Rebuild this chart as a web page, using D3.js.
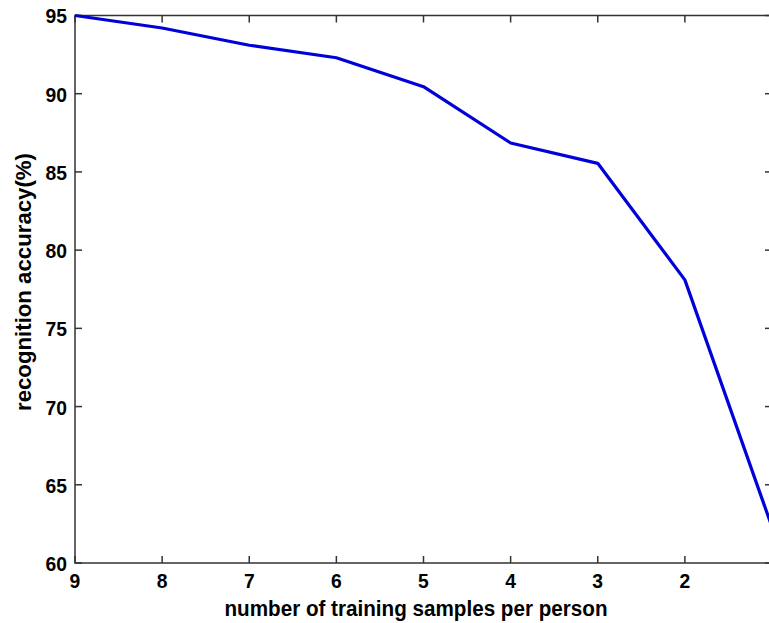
<!DOCTYPE html>
<html>
<head>
<meta charset="utf-8">
<script src="https://cdn.jsdelivr.net/npm/d3@7"></script>
<style>
  body { margin: 0; background: #fff; }
  text { font-family: "Liberation Sans", Arial, sans-serif; font-weight: bold; fill: #000; }
</style>
</head>
<body>
<svg id="chart" width="769" height="623"></svg>
<script>
var samples = [9, 8, 7, 6, 5, 4, 3, 2, 1];
var accuracy = [95.0, 94.2, 93.1, 92.3, 90.45, 86.85, 85.55, 78.1, 62.3];
var xTicks = [9, 8, 7, 6, 5, 4, 3, 2, 1];
var yTicks = [60, 65, 70, 75, 80, 85, 90, 95];

var W = 769;
var svg = d3.select('#chart');
var mLeft = 75, mRight = 772, mTop = 15.5, mBottom = 563;

var x = d3.scaleLinear().domain([9, 1]).range([mLeft, mRight]);
var y = d3.scaleLinear().domain([60, 95]).range([mBottom, mTop]);

// frame
svg.append('rect')
   .attr('x', mLeft).attr('y', mTop)
   .attr('width', mRight - mLeft).attr('height', mBottom - mTop)
   .attr('fill', 'none').attr('stroke', '#333').attr('stroke-width', 1.5);

var tickLen = 7;

// x ticks, bottom and top, pointing inward
xTicks.forEach(function(d){
    svg.append('line').attr('x1', x(d)).attr('x2', x(d))
       .attr('y1', mBottom).attr('y2', mBottom - tickLen)
       .attr('stroke', '#333').attr('stroke-width', 1.5);
    svg.append('line').attr('x1', x(d)).attr('x2', x(d))
       .attr('y1', mTop).attr('y2', mTop + tickLen)
       .attr('stroke', '#333').attr('stroke-width', 1.5);
    // the last label falls past the window edge in the original
    if (x(d) + 6 < W) {
        svg.append('text').attr('x', x(d)).attr('y', 588)
           .attr('text-anchor', 'middle').attr('font-size', 21)
           .attr('transform', 'translate(' + x(d) + ',0) scale(0.92,1) translate(' + (-x(d)) + ',0)')
           .text(d);
    }
});

// y ticks, left and right
yTicks.forEach(function(d){
    svg.append('line').attr('x1', mLeft).attr('x2', mLeft + tickLen)
       .attr('y1', y(d)).attr('y2', y(d))
       .attr('stroke', '#333').attr('stroke-width', 1.5);
    svg.append('line').attr('x1', mRight).attr('x2', mRight - tickLen)
       .attr('y1', y(d)).attr('y2', y(d))
       .attr('stroke', '#333').attr('stroke-width', 1.5);
    svg.append('text').attr('x', 67).attr('y', y(d) + 8)
       .attr('text-anchor', 'end').attr('font-size', 21)
       .attr('transform', 'translate(67,0) scale(0.92,1) translate(-67,0)')
       .text(d);
});

// the series
var line = d3.line()
    .x(function(d, i){ return x(samples[i]); })
    .y(function(d){ return y(d); });

svg.append('path')
   .datum(accuracy)
   .attr('d', line)
   .attr('fill', 'none')
   .attr('stroke', '#0000d8')
   .attr('stroke-width', 3.2)
   .attr('stroke-linejoin', 'round');

// axis labels (condensed look)
svg.append('text').attr('x', 416).attr('y', 616)
   .attr('text-anchor', 'middle').attr('font-size', 22)
   .attr('textLength', 383).attr('lengthAdjust', 'spacingAndGlyphs')
   .text('number of training samples per person');

svg.append('text')
   .attr('transform', 'translate(31,282) rotate(-90)')
   .attr('text-anchor', 'middle').attr('font-size', 22)
   .attr('textLength', 258).attr('lengthAdjust', 'spacingAndGlyphs')
   .text('recognition accuracy(%)');
</script>
</body>
</html>
